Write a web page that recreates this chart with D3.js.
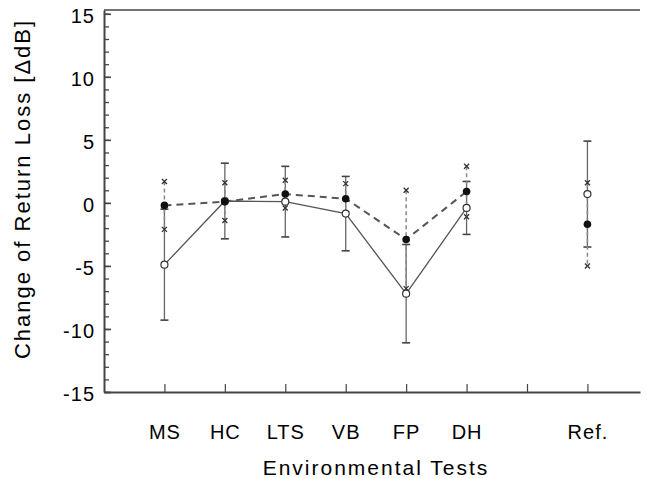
<!DOCTYPE html>
<html>
<head>
<meta charset="utf-8">
<script src="https://cdn.jsdelivr.net/npm/d3@7"></script>
<style>
  body { margin: 0; background: #fff; }
  svg { font-family: "Liberation Sans", Arial, sans-serif; }
  .axis text { font-size: 20px; fill: #000; letter-spacing: 1px; }
  .axis path, .axis line { stroke: #444; }
</style>
</head>
<body>
<svg id="chart" width="647" height="478"></svg>
<script>
// tick slots along x; slot 7 is left empty in the original
var tickLabels = ["MS", "HC", "LTS", "VB", "FP", "DH", "", "Ref."];
var yTicks = [-15, -10, -5, 0, 5, 10, 15];

// filled circles, dashed line (error ends marked with x)
var filledMean = [-0.2, 0.1, 0.7, 0.33, -2.9, 0.9, null, -1.7];
var filledErr  = [1.9, 1.5, 1.1, 1.2, 3.9, 2.0, null, 3.3];
// open circles, solid line (error ends marked with caps)
var openMean = [-4.9, 0.15, 0.1, -0.85, -7.2, -0.4, null, 0.7];
var openErr  = [4.4, 3.0, 2.8, 2.95, 3.9, 2.1, null, 4.2];

var svg = d3.select("#chart");

var x = d3.scaleLinear().domain([0, 8.87]).range([104, 640]);
var y = d3.scaleLinear().domain([-15, 15.3]).range([392, 10]);

function rows(means, errs) {
  return means.map(function(m, i) {
    return {pos: i + 1, v: m, e: errs[i]};
  });
}
var filled = rows(filledMean, filledErr);
var open = rows(openMean, openErr);

// frame top line
svg.append("line")
    .attr("x1", x(0)).attr("x2", x(8.87))
    .attr("y1", y(15.3)).attr("y2", y(15.3))
    .attr("stroke", "#444").attr("stroke-width", 1.5);

// y axis: minor + major ticks pointing inward
svg.append("g")
    .attr("class", "axis")
    .attr("transform", "translate(" + x(0) + ",0)")
    .call(d3.axisLeft(y).tickValues(d3.range(-15, 16, 1)).tickSize(-5).tickSizeOuter(0).tickFormat(""))
    .call(function(g) { g.selectAll("line").attr("stroke-width", 1.3); g.select(".domain").attr("stroke-width", 2); });

svg.append("g")
    .attr("class", "axis")
    .attr("transform", "translate(" + x(0) + ",0)")
    .call(d3.axisLeft(y).tickValues(yTicks).tickSize(-7).tickSizeOuter(0).tickPadding(9)
      .tickFormat(function(d) { return String(d); }))
    .call(function(g) {
      g.select(".domain").remove();
      g.selectAll("line").attr("stroke-width", 1.6);
      g.selectAll("text").attr("dy", "0.42em");
    });

// x axis
svg.append("g")
    .attr("class", "axis")
    .attr("transform", "translate(0," + y(-15) + ")")
    .call(d3.axisBottom(x)
      .tickValues(d3.range(1, tickLabels.length + 1))
      .tickFormat(function(d) { return tickLabels[d - 1]; })
      .tickSize(-8)
      .tickSizeOuter(0)
      .tickPadding(33))
    .call(function(g) { g.select(".domain").attr("stroke-width", 2); g.selectAll("line").attr("stroke-width", 1.2); });

// axis titles
svg.append("text")
    .attr("transform", "translate(30,189) rotate(-90)")
    .attr("text-anchor", "middle")
    .attr("font-size", 22)
    .attr("letter-spacing", "2px")
    .text("Change of Return Loss [\u0394dB]");

svg.append("text")
    .attr("x", 376).attr("y", 475)
    .attr("text-anchor", "middle")
    .attr("font-size", 21)
    .attr("letter-spacing", "2px")
    .text("Environmental Tests");

var defined = function(d) { return d.v != null; };
var line = d3.line().defined(defined)
    .x(function(d) { return x(d.pos); })
    .y(function(d) { return y(d.v); });

// connecting lines (Ref. stands alone)
svg.append("path")
    .datum(open.slice(0, 6))
    .attr("d", line)
    .attr("fill", "none").attr("stroke", "#555").attr("stroke-width", 1.3);

svg.append("path")
    .datum(filled.slice(0, 6))
    .attr("d", line)
    .attr("fill", "none").attr("stroke", "#555").attr("stroke-width", 2)
    .attr("stroke-dasharray", "7,5");

// error bars, open series (solid with caps)
var ob = svg.append("g").selectAll("g").data(open.filter(defined)).enter().append("g");
ob.append("line")
    .attr("x1", function(d) { return x(d.pos); }).attr("x2", function(d) { return x(d.pos); })
    .attr("y1", function(d) { return y(d.v + d.e); }).attr("y2", function(d) { return y(d.v - d.e); })
    .attr("stroke", "#666").attr("stroke-width", 1.3);
ob.selectAll(".cap").data(function(d) { return [[d.pos, d.v + d.e], [d.pos, d.v - d.e]]; })
  .enter().append("line")
    .attr("x1", function(p) { return x(p[0]) - 4; }).attr("x2", function(p) { return x(p[0]) + 4; })
    .attr("y1", function(p) { return y(p[1]); }).attr("y2", function(p) { return y(p[1]); })
    .attr("stroke", "#444").attr("stroke-width", 1.6);

// error bars, filled series (dashed with x ends)
var fb = svg.append("g").selectAll("g").data(filled.filter(defined)).enter().append("g");
fb.append("line")
    .attr("x1", function(d) { return x(d.pos); }).attr("x2", function(d) { return x(d.pos); })
    .attr("y1", function(d) { return y(d.v + d.e); }).attr("y2", function(d) { return y(d.v - d.e); })
    .attr("stroke", "#888").attr("stroke-width", 1.5)
    .attr("stroke-dasharray", "4,3");
fb.selectAll(".xm").data(function(d) { return [[d.pos, d.v + d.e], [d.pos, d.v - d.e]]; })
  .enter().append("path")
    .attr("d", function(p) {
      var cx = x(p[0]), cy = y(p[1]), s = 2.5;
      return "M" + (cx - s) + "," + (cy - s) + "L" + (cx + s) + "," + (cy + s) +
             "M" + (cx - s) + "," + (cy + s) + "L" + (cx + s) + "," + (cy - s);
    })
    .attr("stroke", "#333").attr("stroke-width", 1.3).attr("fill", "none");

// markers
svg.append("g").selectAll("circle").data(open.filter(defined)).enter().append("circle")
    .attr("cx", function(d) { return x(d.pos); })
    .attr("cy", function(d) { return y(d.v); })
    .attr("r", 3.5)
    .attr("fill", "#fff").attr("stroke", "#333").attr("stroke-width", 1.2);

svg.append("g").selectAll("circle").data(filled.filter(defined)).enter().append("circle")
    .attr("cx", function(d) { return x(d.pos); })
    .attr("cy", function(d) { return y(d.v); })
    .attr("r", 3.8)
    .attr("fill", "#111");
</script>
</body>
</html>
